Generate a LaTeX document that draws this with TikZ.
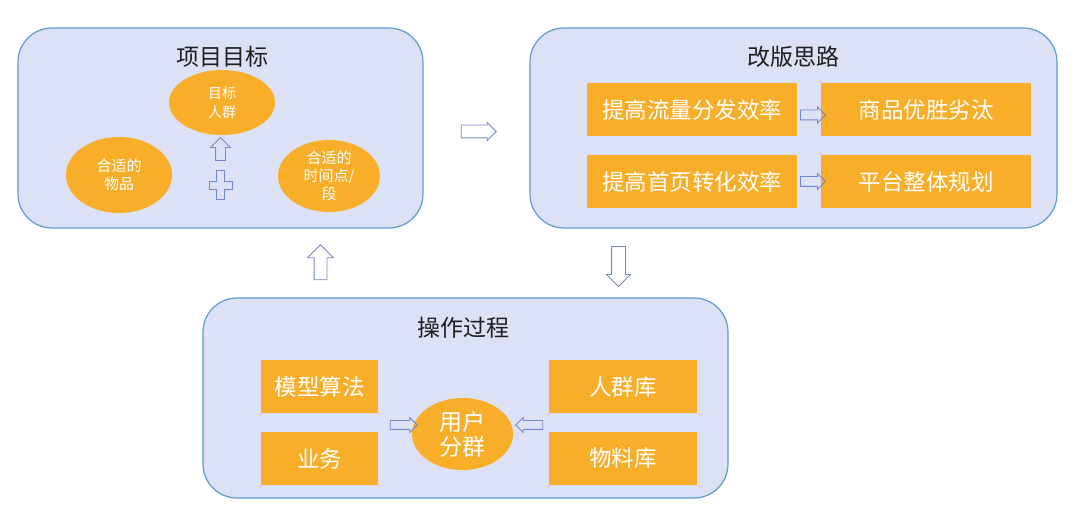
\documentclass[tikz,border=0pt]{standalone}
\usepackage{fontspec}
\setmainfont{Noto Sans CJK SC}
\usetikzlibrary{shapes.geometric,shapes.arrows}
\definecolor{panelfill}{HTML}{DCE1F5}
\definecolor{panelline}{HTML}{5B9BD5}
\definecolor{boxorange}{HTML}{F9AE2A}
\definecolor{arrowline}{HTML}{7388CC}
\tikzset{
  panel/.style={draw=panelline, fill=panelfill, line width=1.2pt, rounded corners=34pt},
  heading/.style={font=\fontsize{23}{27}\selectfont, text=black!88},
  orangebox/.style={fill=boxorange, text=white, minimum height=53pt, inner sep=0pt, font=\fontsize{22.5}{26}\selectfont},
  blob/.style={ellipse, fill=boxorange, text=white, inner sep=0pt, align=center},
  blockarrow/.style 2 args={single arrow, draw=arrowline, line width=0.8pt, inner xsep=0pt, inner ysep=#1,
    single arrow tip angle=90, single arrow head extend=#2},
}

\begin{document}
\begin{tikzpicture}[x=1pt, y=-1pt]
			%%%%% START %%%%%
			\useasboundingbox (0,0) rectangle (1080,521);
			
			% panels
			\node[panel, minimum width=405pt, minimum height=200pt] (goalpanel) at (220.5,128) {};
			\node[panel, minimum width=527pt, minimum height=200pt] (ideapanel) at (793.5,128) {};
			\node[panel, minimum width=525pt, minimum height=200pt] (workpanel) at (465.5,398) {};
			
			\node[heading] (goaltitle) at (222,57) {项目目标};
			\node[heading] (ideatitle) at (793,57) {改版思路};
			\node[heading] (worktitle) at (463,328) {操作过程};
			
			% project goal
			\node[blob, minimum width=106pt, minimum height=65pt, font=\fontsize{14}{19}\selectfont] (crowd) at (222,102.5) {目标\\人群};
			\node[blob, minimum width=106pt, minimum height=76pt, font=\fontsize{15}{18}\selectfont] (goods) at (119,175) {合适的\\物品};
			\node[blob, minimum width=102pt, minimum height=72pt, font=\fontsize{15}{18}\selectfont] (slot) at (329,176) {合适的\\时间点/\\段};
			\node[blockarrow={4.5pt}{5pt}, minimum height=23pt, rotate=90] (crowdarrow) at (220.5,151.5) {};
			\draw[arrowline, line width=0.8pt] (216.5,170.5) -- (224.5,170.5) -- (224.5,181) -- (232,181) -- (232,189) -- (224.5,189)
			  -- (224.5,199.5) -- (216.5,199.5) -- (216.5,189) -- (209,189) -- (209,181) -- (216.5,181) -- cycle;
			
			% redesign ideas
			\node[orangebox, minimum width=210pt] (flow) at (692,110) {提高流量分发效率};
			\node[orangebox, minimum width=210pt] (survive) at (926,110) {商品优胜劣汰};
			\node[orangebox, minimum width=210pt] (convert) at (692,181.5) {提高首页转化效率};
			\node[orangebox, minimum width=210pt] (plan) at (926,181.5) {平台整体规划};
			\node[blockarrow={4.5pt}{3pt}, minimum height=25pt] (flowarrow) at (810.5,115) {};
			\node[blockarrow={4.5pt}{3pt}, minimum height=25pt] (convertarrow) at (810.5,181.5) {};
			
			% process
			\node[orangebox, minimum width=117pt] (model) at (319.5,386.5) {模型算法};
			\node[orangebox, minimum width=117pt] (business) at (319.5,458.5) {业务};
			\node[orangebox, minimum width=148pt] (crowdlib) at (623,386.5) {人群库};
			\node[orangebox, minimum width=148pt] (itemlib) at (623,458.5) {物料库};
			\node[blob, minimum width=101pt, minimum height=72pt, font=\fontsize{23}{25}\selectfont] (usergroup) at (462.5,434) {用户\\分群};
			\node[blockarrow={4pt}{3pt}, minimum height=27pt] (leftin) at (401.5,425) {};
			\node[blockarrow={4pt}{3pt}, minimum height=27pt, rotate=180] (rightin) at (531.5,425) {};
			
			% between panels
			\node[blockarrow={6pt}{2.5pt}, minimum height=35pt] (goaltoidea) at (475.5,131.5) {};
			\node[blockarrow={6.5pt}{5pt}, minimum height=40pt, rotate=-90] (ideatowork) at (618.5,263) {};
			\node[blockarrow={6pt}{6.5pt}, minimum height=35pt, rotate=90] (worktogoal) at (320.5,265.5) {};
			
			%%%%% END %%%%%
\end{tikzpicture}
\end{document}
